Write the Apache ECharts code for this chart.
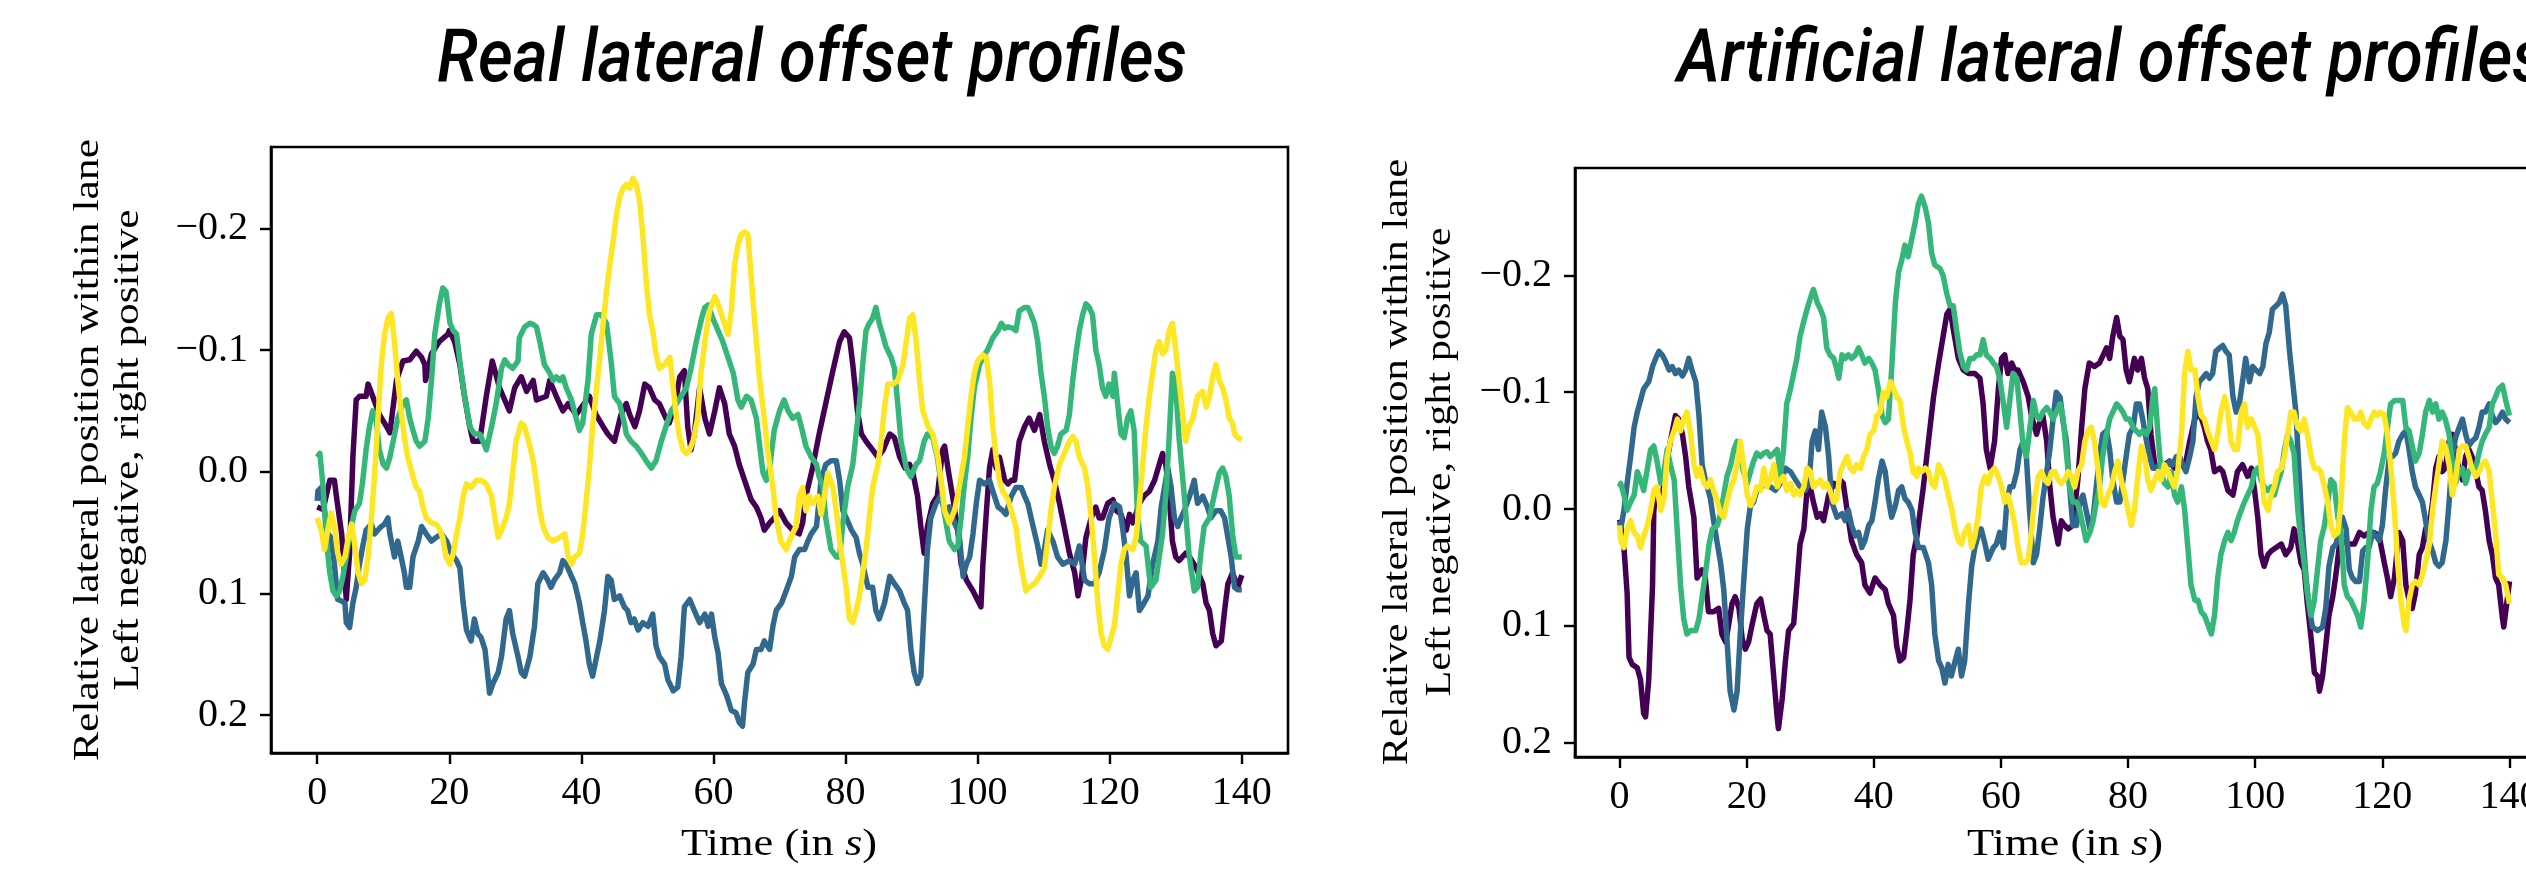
<!DOCTYPE html>
<html><head><meta charset="utf-8">
<script src="https://cdn.jsdelivr.net/npm/echarts@6/dist/echarts.min.js"></script>
<style>html,body{margin:0;padding:0;background:#fff;overflow:hidden}#c{width:2600px;height:869px}</style>
</head><body><div id="c"></div>
<script>
// ---- tick labels / categories ----
const xTicks = [0, 20, 40, 60, 80, 100, 120, 140];
const yTicks = [-0.2, -0.1, 0, 0.1, 0.2];
const titles = ['Real lateral offset profiles', 'Artificial lateral offset profiles'];
const yLabel1 = 'Relative lateral position within lane';
const yLabel2 = 'Left negative, right positive';
const colors = ['#440154', '#31688e', '#35b779', '#fde725'];

// ---- real profiles: [time s, relative lateral position] ----
const realPurple = [[0,0.029],[0.9,0.031],[1.9,0.007],[2.6,0.007],[2.9,0.020],[3.7,0.051],[4.4,0.105],[4.9,0.067],[5.4,-0.012],[5.9,-0.059],[6.4,-0.062],[7.4,-0.062],[7.7,-0.072],[8.4,-0.062],[9.4,-0.047],[10.5,-0.037],[11.0,-0.032],[12.0,-0.075],[13.0,-0.091],[14.0,-0.092],[15.0,-0.099],[15.8,-0.094],[16.3,-0.088],[16.4,-0.075],[17.3,-0.097],[18.5,-0.107],[19.8,-0.113],[20.0,-0.116],[20.8,-0.107],[21.6,-0.088],[22.3,-0.062],[23.1,-0.037],[23.6,-0.025],[24.6,-0.025],[25.6,-0.062],[26.5,-0.091],[27.6,-0.069],[29.1,-0.050],[29.9,-0.069],[30.9,-0.078],[31.7,-0.066],[32.7,-0.075],[33.2,-0.059],[34.7,-0.062],[35.2,-0.075],[36.2,-0.062],[37.2,-0.050],[38.0,-0.056],[39.2,-0.047],[41.2,-0.062],[42.2,-0.047],[43.3,-0.037],[44.0,-0.031],[45.0,-0.025],[46.0,-0.047],[46.8,-0.056],[47.3,-0.047],[48.1,-0.037],[48.8,-0.050],[49.6,-0.072],[50.3,-0.069],[51.1,-0.059],[51.8,-0.056],[52.8,-0.044],[53.3,-0.040],[54.1,-0.053],[54.9,-0.078],[55.6,-0.083],[56.1,-0.037],[56.6,-0.018],[57.1,-0.031],[57.9,-0.069],[58.7,-0.044],[59.4,-0.031],[60.2,-0.050],[60.9,-0.069],[61.7,-0.056],[62.4,-0.031],[63.2,-0.021],[63.9,-0.006],[64.7,0.007],[65.7,0.023],[66.5,0.029],[67.2,0.038],[67.7,0.048],[68.5,0.042],[69.2,0.038],[70.0,0.032],[71.0,0.042],[72.0,0.048],[73.0,0.051],[73.5,0.042],[74.0,0.020],[75.0,-0.003],[76.0,-0.031],[77.0,-0.056],[78.0,-0.081],[79.1,-0.107],[79.8,-0.115],[80.6,-0.110],[81.1,-0.088],[81.8,-0.050],[82.4,-0.031],[83.1,-0.025],[84.1,-0.018],[84.9,-0.012],[85.7,-0.018],[86.7,-0.031],[87.4,-0.028],[88.2,-0.012],[89.0,-0.003],[89.7,-0.006],[90.2,0.001],[90.9,0.020],[91.4,0.045],[91.9,0.067],[92.4,0.045],[93.2,0.026],[93.9,0.020],[94.7,-0.018],[95.0,-0.021],[95.5,-0.003],[96.2,0.020],[97.0,0.048],[97.5,0.076],[98.3,0.089],[99.3,0.098],[100.5,0.111],[100.8,0.076],[101.3,0.035],[101.8,-0.003],[102.3,-0.018],[102.8,-0.003],[103.3,-0.012],[104.1,0.007],[104.6,0.010],[105.1,0.007],[105.6,0.007],[106.3,-0.025],[107.1,-0.037],[107.8,-0.044],[108.6,-0.034],[109.4,-0.047],[110.1,-0.025],[110.9,-0.006],[111.6,0.007],[112.4,0.026],[113.1,0.045],[113.9,0.067],[114.7,0.083],[115.2,0.102],[115.7,0.089],[116.4,0.054],[117.2,0.038],[117.9,0.029],[118.4,0.038],[118.9,0.038],[119.7,0.026],[120.5,0.023],[121.0,0.032],[121.7,0.035],[122.5,0.048],[123.0,0.035],[123.5,0.042],[124.5,0.026],[125.2,0.020],[126.0,0.016],[126.8,0.007],[127.5,-0.006],[128.0,-0.015],[128.5,-0.006],[129.0,0.020],[129.5,0.057],[130.0,0.070],[130.5,0.073],[131.5,0.067],[132.1,0.070],[133.1,0.079],[134.1,0.092],[134.6,0.108],[135.1,0.114],[135.6,0.133],[136.1,0.143],[136.9,0.139],[137.4,0.114],[137.9,0.092],[138.6,0.083],[139.4,0.095],[140,0.085]];
const realBlue = [[0,0.024],[0.1,0.016],[0.6,0.013],[1.1,0.032],[1.6,0.051],[2.1,0.054],[2.6,0.076],[3.1,0.105],[3.6,0.106],[4.2,0.108],[4.4,0.124],[4.9,0.128],[5.4,0.108],[5.9,0.095],[6.4,0.076],[6.9,0.061],[7.4,0.048],[8.2,0.043],[8.7,0.051],[9.5,0.046],[10.2,0.043],[10.7,0.038],[11.0,0.051],[11.7,0.070],[12.2,0.057],[12.7,0.070],[13.2,0.083],[13.5,0.095],[14.0,0.095],[14.5,0.070],[15.3,0.057],[15.8,0.045],[16.5,0.051],[17.3,0.057],[18.0,0.054],[18.8,0.051],[19.6,0.057],[20.3,0.067],[21.1,0.073],[21.6,0.079],[22.1,0.108],[22.6,0.130],[23.3,0.139],[23.8,0.121],[24.3,0.133],[24.8,0.136],[25.4,0.146],[25.9,0.171],[26.1,0.182],[26.6,0.174],[27.4,0.165],[27.9,0.152],[28.6,0.121],[29.1,0.114],[29.6,0.133],[30.4,0.152],[30.9,0.165],[31.4,0.168],[32.2,0.152],[32.9,0.127],[33.4,0.092],[34.2,0.083],[34.9,0.089],[35.4,0.095],[35.9,0.089],[36.7,0.083],[37.2,0.073],[37.7,0.076],[38.5,0.086],[39.0,0.092],[39.7,0.108],[40.2,0.124],[40.7,0.139],[41.2,0.158],[41.7,0.168],[42.3,0.152],[42.8,0.139],[43.5,0.114],[44.0,0.086],[44.5,0.089],[45.0,0.105],[45.8,0.102],[46.5,0.111],[47.0,0.114],[47.5,0.124],[48.0,0.121],[48.6,0.130],[49.3,0.124],[50.1,0.127],[50.8,0.117],[51.3,0.143],[51.8,0.152],[52.6,0.158],[53.1,0.171],[53.9,0.180],[54.6,0.177],[55.1,0.152],[55.6,0.111],[56.4,0.105],[57.1,0.114],[57.9,0.124],[58.7,0.117],[59.2,0.127],[59.7,0.117],[60.2,0.136],[60.7,0.149],[61.2,0.174],[62.0,0.184],[62.7,0.196],[63.4,0.198],[63.9,0.206],[64.4,0.209],[64.7,0.190],[65.2,0.165],[66.0,0.158],[66.5,0.146],[67.2,0.146],[67.7,0.139],[68.5,0.146],[69.0,0.127],[69.5,0.114],[70.3,0.108],[71.0,0.098],[71.8,0.086],[72.3,0.070],[73.0,0.064],[73.8,0.064],[74.3,0.057],[74.8,0.051],[75.6,0.045],[76.3,0.007],[77.0,-0.006],[77.8,-0.009],[78.6,-0.009],[79.1,0.007],[79.6,0.032],[80.1,0.038],[80.9,0.048],[81.6,0.054],[82.1,0.067],[82.6,0.076],[83.4,0.095],[84.1,0.095],[84.6,0.114],[85.1,0.121],[85.9,0.108],[86.7,0.086],[87.4,0.092],[88.2,0.098],[88.9,0.108],[89.4,0.114],[89.9,0.146],[90.4,0.165],[90.9,0.174],[91.4,0.168],[91.9,0.114],[92.4,0.064],[92.9,0.038],[93.7,0.026],[94.4,0.020],[95.0,0.032],[95.7,0.029],[96.5,0.042],[97.2,0.051],[97.8,0.086],[98.3,0.076],[98.8,0.070],[99.3,0.051],[99.8,0.026],[100.3,0.007],[101.0,0.010],[101.8,0.007],[102.3,0.016],[103.1,0.029],[103.8,0.032],[104.3,0.035],[105.1,0.020],[105.8,0.013],[106.6,0.013],[107.1,0.020],[107.6,0.026],[108.4,0.045],[109.1,0.061],[109.6,0.076],[110.1,0.064],[110.6,0.048],[111.4,0.057],[112.1,0.070],[112.9,0.076],[113.9,0.073],[114.7,0.076],[115.4,0.061],[116.2,0.089],[116.9,0.092],[117.7,0.092],[118.4,0.083],[119.2,0.064],[119.9,0.038],[120.7,0.026],[121.5,0.029],[122.0,0.048],[122.5,0.070],[123.0,0.102],[123.5,0.089],[124.0,0.083],[124.5,0.114],[125.2,0.108],[125.8,0.102],[126.5,0.076],[127.3,0.057],[127.8,0.029],[128.3,0.013],[128.8,-0.003],[129.3,0.013],[129.8,0.038],[130.3,0.045],[130.8,0.038],[131.3,0.032],[132.1,0.020],[132.8,0.007],[133.3,0.026],[134.1,0.020],[134.8,0.029],[135.3,0.038],[136.1,0.032],[136.8,0.032],[137.4,0.038],[137.9,0.054],[138.4,0.070],[138.9,0.095],[139.4,0.097],[140,0.097]];
const realGreen = [[0,-0.012],[0.4,-0.015],[0.9,0.013],[1.4,0.057],[1.9,0.083],[2.4,0.098],[2.9,0.102],[3.4,0.098],[3.9,0.086],[4.4,0.070],[4.9,0.051],[5.7,0.032],[6.4,0.026],[6.9,0.007],[7.4,-0.018],[7.9,-0.037],[8.4,-0.050],[8.9,-0.044],[9.4,-0.018],[10.0,-0.006],[10.5,-0.003],[11.0,-0.012],[11.5,-0.025],[12.2,-0.044],[13.0,-0.056],[13.5,-0.059],[14.0,-0.044],[14.5,-0.034],[15.0,-0.025],[15.5,-0.021],[16.3,-0.025],[16.8,-0.044],[17.3,-0.075],[17.8,-0.113],[18.5,-0.138],[19.0,-0.151],[19.5,-0.148],[20.1,-0.122],[20.6,-0.116],[21.1,-0.113],[21.6,-0.091],[22.1,-0.069],[22.6,-0.053],[23.1,-0.037],[23.8,-0.031],[24.6,-0.031],[25.1,-0.025],[25.6,-0.018],[26.4,-0.037],[27.1,-0.056],[27.9,-0.085],[28.4,-0.092],[28.9,-0.088],[29.6,-0.085],[30.4,-0.091],[30.6,-0.110],[31.4,-0.119],[32.2,-0.122],[32.7,-0.121],[33.2,-0.119],[33.7,-0.107],[34.4,-0.088],[35.2,-0.081],[35.7,-0.075],[36.2,-0.078],[36.7,-0.075],[37.2,-0.078],[37.7,-0.069],[38.5,-0.059],[39.2,-0.044],[39.7,-0.034],[40.2,-0.040],[41.0,-0.075],[41.5,-0.113],[42.3,-0.129],[43.0,-0.129],[43.8,-0.122],[44.5,-0.091],[45.0,-0.062],[45.8,-0.056],[46.5,-0.040],[46.8,-0.031],[47.5,-0.025],[48.3,-0.021],[49.1,-0.015],[49.8,-0.009],[50.6,-0.003],[51.3,-0.009],[52.1,-0.025],[52.8,-0.037],[53.6,-0.050],[54.4,-0.056],[55.1,-0.062],[55.9,-0.069],[56.6,-0.085],[57.4,-0.107],[58.2,-0.126],[58.7,-0.135],[59.2,-0.137],[59.9,-0.126],[60.7,-0.116],[61.4,-0.107],[62.2,-0.094],[63.0,-0.081],[63.7,-0.059],[64.2,-0.053],[65.0,-0.062],[65.7,-0.059],[66.5,-0.044],[67.0,-0.021],[67.5,0.001],[68.0,0.007],[68.5,-0.003],[69.2,-0.034],[70.0,-0.050],[70.7,-0.059],[71.3,-0.050],[72.0,-0.044],[72.8,-0.047],[73.3,-0.037],[74.0,-0.021],[74.8,-0.012],[75.6,-0.006],[76.0,0.004],[76.6,0.013],[77.0,0.038],[77.8,0.064],[78.6,0.070],[79.1,0.070],[79.6,0.042],[80.3,0.013],[81.1,-0.006],[81.6,-0.031],[82.1,-0.056],[82.6,-0.088],[83.1,-0.116],[83.6,-0.122],[84.1,-0.126],[84.6,-0.135],[85.1,-0.122],[85.6,-0.113],[86.1,-0.103],[86.9,-0.094],[87.4,-0.085],[87.9,-0.056],[88.4,-0.025],[89.2,-0.003],[89.9,0.004],[90.7,-0.006],[91.2,-0.009],[91.9,-0.025],[92.4,-0.031],[93.2,-0.028],[93.9,-0.012],[94.4,0.007],[94.9,0.032],[95.7,0.057],[96.5,0.064],[97.0,0.061],[97.5,0.038],[98.0,0.010],[98.5,-0.012],[99.0,-0.044],[99.5,-0.069],[100.3,-0.088],[100.8,-0.094],[101.5,-0.100],[102.3,-0.110],[103.1,-0.116],[103.6,-0.122],[104.1,-0.118],[104.6,-0.119],[105.3,-0.118],[105.8,-0.116],[106.3,-0.132],[107.1,-0.135],[107.6,-0.135],[108.1,-0.129],[108.6,-0.122],[109.1,-0.107],[109.6,-0.081],[110.1,-0.062],[110.6,-0.037],[111.1,-0.021],[111.6,-0.015],[112.1,-0.021],[112.6,-0.031],[113.4,-0.034],[113.9,-0.047],[114.4,-0.075],[114.9,-0.097],[115.4,-0.116],[115.9,-0.129],[116.4,-0.138],[116.9,-0.135],[117.4,-0.129],[117.9,-0.100],[118.4,-0.088],[118.9,-0.069],[119.4,-0.062],[119.9,-0.072],[120.5,-0.062],[120.7,-0.081],[121.2,-0.056],[121.7,-0.031],[122.2,-0.028],[122.7,-0.044],[123.2,-0.050],[123.7,-0.034],[124.2,0.035],[124.7,0.057],[125.5,0.061],[126.2,0.095],[127.0,0.089],[127.5,0.070],[128.0,0.051],[128.5,0.020],[129.0,-0.028],[129.5,-0.081],[130.0,-0.069],[130.5,-0.028],[131.3,0.020],[132.0,0.067],[132.8,0.098],[133.3,0.095],[133.8,0.067],[134.3,0.045],[135.1,0.038],[135.8,0.020],[136.6,0.001],[137.1,-0.003],[137.6,0.004],[138.1,0.020],[138.6,0.051],[139.1,0.070],[140,0.070]];
const realYellow = [[0,0.038],[0.1,0.038],[0.6,0.048],[1.1,0.064],[1.6,0.048],[2.1,0.034],[2.6,0.045],[3.1,0.067],[3.6,0.076],[4.2,0.070],[4.7,0.054],[5.2,0.043],[5.7,0.061],[6.2,0.083],[6.7,0.092],[7.2,0.089],[7.7,0.070],[8.2,0.038],[8.7,0.001],[9.2,-0.044],[9.7,-0.088],[10.2,-0.113],[10.7,-0.126],[11.2,-0.130],[11.7,-0.107],[12.2,-0.075],[12.7,-0.050],[13.2,-0.028],[13.7,-0.012],[14.5,0.004],[15.0,0.013],[15.5,0.016],[16.0,0.029],[16.5,0.038],[17.3,0.042],[18.0,0.043],[18.5,0.047],[19.0,0.054],[19.5,0.070],[20.1,0.076],[20.6,0.067],[21.1,0.051],[21.6,0.038],[22.1,0.020],[22.6,0.010],[23.3,0.013],[24.1,0.007],[24.8,0.007],[25.6,0.010],[26.4,0.020],[26.9,0.038],[27.4,0.054],[27.9,0.048],[28.6,0.038],[29.1,0.026],[29.6,0.001],[30.1,-0.025],[30.9,-0.040],[31.4,-0.037],[32.2,-0.021],[32.7,-0.009],[33.2,0.010],[33.7,0.032],[34.2,0.045],[34.9,0.054],[35.7,0.057],[36.7,0.054],[37.5,0.051],[38.0,0.070],[38.5,0.076],[39.0,0.070],[39.7,0.067],[40.2,0.051],[40.7,0.026],[41.2,-0.003],[41.7,-0.037],[42.3,-0.069],[42.8,-0.094],[43.3,-0.122],[43.8,-0.148],[44.3,-0.170],[44.8,-0.189],[45.3,-0.211],[45.8,-0.226],[46.3,-0.233],[46.8,-0.236],[47.3,-0.233],[47.8,-0.241],[48.3,-0.236],[48.8,-0.223],[49.3,-0.195],[49.8,-0.157],[50.3,-0.129],[50.8,-0.116],[51.3,-0.097],[51.8,-0.085],[52.6,-0.088],[53.4,-0.094],[53.9,-0.069],[54.4,-0.044],[54.9,-0.028],[55.4,-0.018],[55.9,-0.015],[56.4,-0.018],[56.9,-0.025],[57.6,-0.044],[58.1,-0.081],[58.7,-0.107],[59.4,-0.132],[60.2,-0.144],[60.7,-0.138],[61.4,-0.126],[62.2,-0.113],[62.7,-0.132],[63.2,-0.170],[63.7,-0.186],[64.2,-0.195],[64.7,-0.197],[65.2,-0.195],[65.7,-0.161],[66.2,-0.126],[67.0,-0.075],[67.7,-0.044],[68.2,-0.018],[69.0,0.013],[69.5,0.038],[70.2,0.057],[71.0,0.064],[71.7,0.054],[72.5,0.045],[73.0,0.020],[73.5,0.013],[74.0,0.032],[74.5,0.020],[75.0,0.026],[75.8,0.020],[76.3,0.035],[76.8,0.020],[77.3,0.001],[78.1,0.013],[78.6,0.032],[79.1,0.057],[79.6,0.076],[80.1,0.095],[80.6,0.121],[81.1,0.124],[81.6,0.114],[82.1,0.102],[82.6,0.083],[83.1,0.064],[83.6,0.038],[84.1,0.013],[84.9,-0.006],[85.4,-0.025],[85.9,-0.053],[86.4,-0.072],[87.2,-0.072],[87.9,-0.075],[88.7,-0.088],[89.2,-0.107],[89.7,-0.126],[90.2,-0.129],[90.7,-0.107],[91.2,-0.075],[91.7,-0.050],[92.5,-0.037],[93.2,-0.031],[94.0,-0.012],[94.7,0.016],[95.0,0.032],[95.7,0.042],[96.5,0.032],[97.2,0.013],[98.0,-0.012],[98.5,-0.037],[99.0,-0.062],[99.5,-0.081],[100.0,-0.091],[100.8,-0.096],[101.3,-0.094],[101.8,-0.075],[102.3,-0.037],[102.8,-0.012],[103.3,0.007],[103.8,0.016],[104.6,0.023],[105.1,0.032],[105.8,0.045],[106.3,0.067],[106.8,0.083],[107.3,0.098],[107.8,0.095],[108.6,0.092],[109.4,0.086],[110.1,0.079],[110.6,0.057],[111.1,0.032],[111.6,0.013],[112.4,-0.006],[113.1,-0.015],[113.9,-0.025],[114.4,-0.029],[114.9,-0.025],[115.4,-0.012],[116.2,-0.003],[116.7,0.013],[117.2,0.038],[117.7,0.070],[118.2,0.108],[118.7,0.133],[119.2,0.143],[119.7,0.146],[120.2,0.136],[120.7,0.127],[121.2,0.102],[121.7,0.076],[122.2,0.064],[122.7,0.061],[123.5,0.064],[124.0,0.054],[124.5,0.026],[125.0,-0.006],[125.5,-0.037],[126.0,-0.062],[126.5,-0.081],[127.0,-0.100],[127.5,-0.107],[128.0,-0.097],[128.5,-0.100],[129.0,-0.116],[129.5,-0.122],[130.0,-0.100],[130.5,-0.075],[131.0,-0.050],[131.5,-0.025],[132.0,-0.037],[132.6,-0.044],[133.3,-0.062],[134.1,-0.066],[134.6,-0.053],[135.1,-0.062],[135.6,-0.078],[136.1,-0.088],[136.6,-0.075],[137.1,-0.069],[137.6,-0.059],[138.1,-0.044],[138.6,-0.040],[138.9,-0.031],[139.4,-0.028],[140,-0.026]];

// ---- artificial profiles: [time s, relative lateral position] ----
const artPurple = [[0,0.009],[0.2,0.014],[0.7,0.033],[1.2,0.072],[1.5,0.127],[2.0,0.133],[2.8,0.136],[3.3,0.146],[3.8,0.175],[4.1,0.178],[4.6,0.146],[5.2,0.065],[5.4,0.001],[5.9,-0.016],[6.7,-0.009],[7.2,-0.032],[8.0,-0.058],[8.8,-0.080],[9.3,-0.077],[9.9,-0.064],[10.4,-0.045],[10.9,-0.019],[11.7,0.007],[12.2,0.059],[13.0,0.052],[13.5,0.059],[14.0,0.088],[14.8,0.088],[15.6,0.085],[16.1,0.107],[16.7,0.114],[17.2,0.098],[17.7,0.081],[18.2,0.075],[18.8,0.085],[19.3,0.111],[19.8,0.120],[20.3,0.114],[20.9,0.098],[21.6,0.081],[22.2,0.077],[22.7,0.091],[23.2,0.104],[23.7,0.107],[24.3,0.146],[24.8,0.178],[25.0,0.188],[25.6,0.162],[26.1,0.130],[26.6,0.104],[27.4,0.098],[27.9,0.065],[28.4,0.030],[29.0,0.017],[29.5,-0.016],[30.0,-0.019],[30.5,-0.006],[31.1,0.007],[31.6,0.004],[32.1,0.010],[32.9,-0.012],[33.7,-0.022],[34.2,-0.019],[34.7,-0.025],[35.2,-0.022],[35.8,0.001],[36.5,0.027],[37.3,0.039],[38.1,0.046],[38.6,0.065],[39.4,0.072],[40.2,0.059],[41.0,0.065],[41.8,0.069],[42.3,0.081],[43.1,0.091],[43.6,0.117],[44.1,0.130],[44.7,0.127],[45.2,0.104],[45.7,0.078],[46.2,0.039],[46.8,0.023],[47.0,0.014],[47.8,-0.019],[48.6,-0.058],[49.4,-0.096],[50.2,-0.125],[51.0,-0.151],[51.5,-0.167],[52.0,-0.171],[52.5,-0.154],[53.3,-0.129],[54.1,-0.119],[54.9,-0.116],[55.9,-0.116],[56.7,-0.112],[57.2,-0.090],[57.7,-0.051],[58.3,-0.035],[59.0,-0.058],[59.6,-0.103],[60.1,-0.129],[60.6,-0.132],[61.1,-0.116],[61.7,-0.125],[62.2,-0.119],[62.7,-0.119],[63.5,-0.109],[64.3,-0.096],[64.8,-0.080],[65.6,-0.064],[66.1,-0.074],[66.6,-0.080],[67.2,-0.058],[67.7,-0.019],[68.2,0.007],[69.0,0.030],[69.5,0.010],[70.0,0.014],[70.6,0.017],[71.3,0.014],[72.1,-0.025],[72.7,-0.070],[73.2,-0.103],[73.9,-0.125],[74.7,-0.122],[75.5,-0.125],[76.1,-0.132],[76.6,-0.138],[77.1,-0.129],[77.6,-0.148],[78.2,-0.164],[78.7,-0.148],[79.2,-0.145],[79.7,-0.119],[80.2,-0.109],[81.0,-0.129],[81.5,-0.119],[82.1,-0.129],[82.6,-0.112],[83.1,-0.103],[83.6,-0.064],[84.2,-0.038],[84.9,-0.032],[85.7,-0.038],[86.5,-0.041],[87.3,-0.035],[88.1,-0.041],[88.9,-0.035],[89.7,-0.058],[90.5,-0.077],[91.2,-0.083],[92.0,-0.070],[92.5,-0.058],[93.0,-0.051],[93.6,-0.032],[94.4,-0.035],[94.9,-0.032],[95.7,-0.016],[96.5,-0.012],[97.2,-0.032],[98.0,-0.038],[98.8,-0.028],[99.4,-0.035],[99.9,-0.016],[100.4,0.007],[100.9,0.039],[101.4,0.049],[102.0,0.039],[102.5,0.036],[103.3,0.033],[104.1,0.030],[104.8,0.039],[105.6,0.033],[106.1,0.017],[106.7,0.030],[107.2,0.046],[107.7,0.052],[108.2,0.081],[108.8,0.111],[109.3,0.140],[109.8,0.143],[110.1,0.156],[110.6,0.143],[111.1,0.117],[111.6,0.091],[112.2,0.075],[112.7,0.056],[113.2,0.033],[113.7,0.027],[114.5,0.030],[115.6,0.030],[116.4,0.020],[117.1,0.023],[117.9,0.020],[118.7,0.020],[119.5,0.023],[120.3,0.046],[120.8,0.059],[121.3,0.075],[121.9,0.059],[122.6,0.020],[123.2,0.027],[123.7,0.065],[124.2,0.078],[124.7,0.085],[125.2,0.072],[125.8,0.039],[126.3,0.033],[126.8,0.017],[127.4,0.014],[127.9,-0.006],[128.4,-0.035],[128.9,-0.045],[129.4,-0.032],[129.9,-0.035],[130.5,-0.058],[131.0,-0.064],[131.5,-0.051],[132.1,-0.032],[132.6,-0.025],[133.1,-0.045],[133.6,-0.051],[134.1,-0.045],[134.7,-0.032],[135.2,-0.019],[135.7,-0.016],[136.2,0.001],[136.8,0.027],[137.3,0.039],[137.8,0.059],[138.3,0.065],[138.9,0.094],[139.1,0.101],[139.7,0.075],[140,0.062]];
const artBlue = [[0,0.010],[0.2,0.017],[0.7,0.001],[1.2,-0.022],[1.75,-0.045],[2.3,-0.070],[2.8,-0.083],[3.3,-0.093],[3.8,-0.103],[4.6,-0.109],[5.2,-0.122],[5.7,-0.129],[6.2,-0.135],[6.7,-0.132],[7.2,-0.127],[7.8,-0.119],[8.3,-0.122],[8.8,-0.116],[9.3,-0.119],[9.9,-0.114],[10.4,-0.119],[10.9,-0.129],[11.4,-0.119],[12.0,-0.109],[12.5,-0.080],[13.0,-0.038],[13.5,-0.025],[14.3,-0.009],[14.8,0.010],[15.4,0.030],[15.9,0.046],[16.4,0.069],[16.9,0.111],[17.4,0.156],[18.0,0.172],[18.5,0.156],[19.0,0.107],[19.5,0.065],[20.1,0.017],[20.6,-0.003],[21.1,-0.006],[21.6,-0.016],[22.4,-0.019],[22.9,-0.022],[23.7,-0.019],[24.5,-0.016],[25.3,-0.022],[26.1,-0.035],[26.9,-0.032],[27.7,-0.025],[28.4,-0.019],[29.2,-0.016],[29.8,-0.022],[30.3,-0.058],[30.8,-0.067],[31.3,-0.051],[31.8,-0.083],[32.4,-0.070],[32.9,-0.045],[33.4,-0.006],[34.2,0.007],[35.0,0.004],[35.5,0.010],[36.0,0.001],[36.5,0.014],[37.1,0.023],[37.6,0.020],[38.1,0.033],[38.6,0.027],[39.2,0.014],[39.7,0.010],[40.2,-0.006],[40.7,-0.025],[41.3,-0.041],[41.8,-0.032],[42.3,-0.009],[42.8,0.007],[43.4,-0.003],[43.9,-0.016],[44.4,-0.019],[44.9,-0.009],[45.4,-0.006],[46.0,0.001],[46.5,0.020],[47.0,0.033],[47.8,0.033],[48.6,0.046],[49.1,0.065],[49.6,0.107],[50.2,0.130],[50.7,0.136],[51.2,0.149],[51.7,0.133],[52.2,0.143],[52.8,0.130],[53.3,0.120],[53.8,0.143],[54.3,0.130],[54.9,0.081],[55.4,0.049],[55.9,0.033],[56.4,0.023],[56.9,0.017],[57.5,0.030],[58.0,0.043],[58.8,0.033],[59.3,0.030],[59.8,0.020],[60.4,0.033],[60.9,-0.003],[61.4,-0.019],[61.9,-0.019],[62.5,-0.032],[63.0,-0.051],[63.5,-0.058],[64.0,-0.045],[64.5,0.001],[65.1,0.046],[65.6,0.039],[66.1,0.017],[66.6,-0.009],[67.2,-0.032],[67.7,-0.051],[68.2,-0.077],[68.7,-0.100],[69.3,-0.096],[69.8,-0.074],[70.3,-0.058],[70.8,-0.019],[71.3,0.014],[71.9,0.014],[72.4,-0.006],[72.9,-0.012],[73.4,0.001],[74.0,0.017],[74.5,0.007],[75.0,-0.019],[75.5,-0.045],[76.0,-0.064],[76.6,-0.067],[77.1,-0.051],[77.6,-0.025],[78.2,-0.006],[78.7,-0.006],[79.2,-0.025],[79.7,-0.045],[80.2,-0.064],[80.8,-0.070],[81.3,-0.090],[81.8,-0.090],[82.3,-0.077],[82.9,-0.058],[83.4,-0.045],[83.9,-0.035],[84.4,-0.035],[84.9,-0.038],[85.5,-0.032],[86.0,-0.035],[86.5,-0.041],[87.0,-0.038],[87.6,-0.045],[88.1,-0.045],[88.6,-0.038],[89.1,-0.032],[89.7,-0.045],[90.2,-0.058],[90.7,-0.096],[91.2,-0.109],[91.7,-0.112],[92.3,-0.116],[92.8,-0.112],[93.3,-0.116],[93.8,-0.135],[94.4,-0.138],[94.9,-0.140],[95.4,-0.135],[95.9,-0.132],[96.5,-0.096],[97.0,-0.083],[97.5,-0.090],[98.0,-0.109],[98.5,-0.129],[99.1,-0.109],[99.6,-0.122],[100.1,-0.119],[100.7,-0.116],[101.2,-0.122],[101.7,-0.142],[102.2,-0.151],[102.7,-0.171],[103.3,-0.174],[103.8,-0.177],[104.3,-0.184],[104.8,-0.174],[105.4,-0.135],[105.9,-0.109],[106.4,-0.083],[106.9,-0.032],[107.4,0.017],[108.0,0.059],[108.5,0.085],[109.0,0.101],[109.8,0.104],[110.6,0.101],[111.1,0.085],[111.6,0.049],[112.2,0.033],[112.7,0.030],[113.2,0.020],[113.7,0.007],[114.3,0.017],[114.8,0.052],[115.3,0.059],[115.8,0.062],[116.4,0.062],[116.9,0.036],[117.4,0.033],[117.9,0.033],[118.5,0.020],[119.0,0.023],[119.5,0.027],[120.0,0.014],[120.5,-0.016],[121.1,-0.045],[121.6,-0.045],[122.1,-0.048],[122.6,-0.058],[123.2,-0.064],[123.7,-0.067],[124.2,-0.051],[124.7,-0.032],[125.2,-0.019],[125.8,-0.012],[126.3,-0.006],[126.8,0.010],[127.3,0.027],[127.9,0.036],[128.4,0.046],[128.9,0.049],[129.4,0.046],[130.0,0.027],[130.5,-0.006],[131.0,-0.045],[131.5,-0.061],[132.1,-0.070],[132.6,-0.077],[133.1,-0.064],[133.6,-0.054],[134.1,-0.058],[134.7,-0.061],[135.2,-0.070],[135.7,-0.083],[136.2,-0.083],[136.8,-0.090],[137.3,-0.080],[137.8,-0.074],[138.3,-0.077],[138.9,-0.083],[139.4,-0.077],[140,-0.074]];
const artGreen = [[0,-0.019],[0.2,-0.022],[0.7,-0.012],[1.2,0.001],[1.75,-0.006],[2.3,-0.012],[2.8,-0.032],[3.3,-0.025],[3.8,-0.016],[4.4,-0.035],[4.9,-0.051],[5.4,-0.054],[5.9,-0.041],[6.5,-0.022],[7.0,-0.032],[7.5,-0.051],[8.0,-0.038],[8.6,-0.025],[9.1,0.020],[9.6,0.065],[10.1,0.094],[10.6,0.107],[11.2,0.104],[12.0,0.104],[12.5,0.094],[13.0,0.075],[13.5,0.056],[14.1,0.030],[14.6,0.017],[15.4,0.014],[15.9,0.004],[16.4,-0.012],[16.9,-0.028],[17.5,-0.038],[18.0,-0.051],[18.5,-0.058],[19.0,-0.045],[19.5,-0.032],[20.1,-0.022],[20.6,-0.032],[21.1,-0.041],[21.6,-0.048],[22.2,-0.045],[22.7,-0.048],[23.2,-0.049],[23.7,-0.045],[24.3,-0.048],[24.8,-0.051],[25.3,-0.028],[25.8,-0.051],[26.3,-0.090],[26.9,-0.103],[27.4,-0.116],[27.9,-0.129],[28.4,-0.148],[29.0,-0.161],[29.5,-0.171],[30.0,-0.180],[30.5,-0.188],[31.1,-0.177],[31.6,-0.171],[32.1,-0.164],[32.6,-0.138],[33.1,-0.132],[33.7,-0.129],[34.2,-0.119],[34.5,-0.112],[35.0,-0.132],[35.5,-0.129],[36.0,-0.132],[36.5,-0.129],[37.1,-0.132],[37.6,-0.138],[38.1,-0.132],[38.6,-0.125],[39.2,-0.129],[39.7,-0.125],[40.2,-0.119],[40.7,-0.103],[41.3,-0.080],[41.8,-0.074],[42.3,-0.077],[42.8,-0.119],[43.4,-0.177],[43.9,-0.203],[44.4,-0.213],[44.9,-0.226],[45.4,-0.216],[46.0,-0.232],[46.5,-0.245],[47.0,-0.261],[47.5,-0.268],[48.1,-0.258],[48.6,-0.245],[49.1,-0.219],[49.6,-0.209],[50.4,-0.206],[50.9,-0.200],[51.5,-0.184],[52.0,-0.174],[52.5,-0.174],[53.0,-0.154],[53.5,-0.135],[54.1,-0.122],[54.6,-0.119],[55.1,-0.129],[55.7,-0.129],[56.2,-0.132],[56.7,-0.132],[57.2,-0.145],[57.7,-0.132],[58.3,-0.129],[58.8,-0.125],[59.3,-0.122],[59.8,-0.112],[60.4,-0.090],[60.9,-0.070],[61.4,-0.093],[61.9,-0.116],[62.5,-0.112],[63.0,-0.083],[63.5,-0.054],[64.0,-0.045],[64.5,-0.067],[65.1,-0.093],[65.6,-0.080],[66.1,-0.077],[66.6,-0.083],[67.2,-0.087],[67.7,-0.083],[68.2,-0.077],[68.7,-0.083],[69.3,-0.090],[69.8,-0.077],[70.3,-0.048],[70.8,-0.019],[71.3,-0.006],[71.9,-0.006],[72.4,0.001],[72.9,0.014],[73.4,0.027],[74.0,0.020],[74.5,0.010],[75.0,-0.006],[75.5,-0.019],[76.0,-0.045],[76.6,-0.064],[77.1,-0.077],[77.6,-0.083],[78.2,-0.090],[78.7,-0.087],[79.2,-0.083],[79.7,-0.077],[80.2,-0.077],[80.8,-0.070],[81.3,-0.067],[81.8,-0.064],[82.3,-0.067],[82.9,-0.064],[83.4,-0.070],[83.9,-0.096],[84.2,-0.103],[84.7,-0.064],[85.2,-0.032],[85.7,-0.022],[86.3,-0.019],[86.8,-0.032],[87.3,-0.012],[87.8,-0.006],[88.4,-0.019],[88.9,0.001],[89.4,0.033],[89.9,0.065],[90.5,0.078],[91.0,0.078],[91.5,0.088],[92.0,0.091],[92.5,0.098],[93.1,0.107],[93.6,0.091],[94.1,0.059],[94.6,0.039],[95.2,0.027],[95.7,0.020],[96.2,0.027],[96.7,0.020],[97.2,0.010],[97.8,0.001],[98.3,-0.006],[98.8,-0.012],[99.4,-0.019],[99.9,-0.032],[100.4,-0.035],[100.9,-0.025],[101.4,-0.019],[102.0,-0.016],[102.5,-0.019],[103.0,-0.012],[103.5,-0.022],[104.1,-0.032],[104.6,-0.051],[105.1,-0.064],[105.6,-0.058],[106.1,-0.048],[106.7,0.001],[107.2,0.027],[107.7,0.046],[108.2,0.072],[108.8,0.091],[109.3,0.078],[109.8,0.052],[110.3,0.027],[110.9,0.014],[111.4,-0.006],[111.9,-0.025],[112.4,-0.022],[113.0,0.007],[113.5,0.020],[114.0,0.065],[114.5,0.075],[115.0,0.078],[115.6,0.085],[116.1,0.091],[116.6,0.101],[117.1,0.081],[117.7,0.043],[118.2,0.001],[118.7,-0.019],[119.2,-0.022],[119.7,-0.032],[120.3,-0.048],[120.8,-0.070],[121.3,-0.090],[121.9,-0.093],[122.6,-0.093],[123.2,-0.093],[123.7,-0.070],[124.2,-0.067],[124.7,-0.054],[125.2,-0.041],[125.8,-0.048],[126.3,-0.064],[126.8,-0.083],[127.4,-0.093],[127.9,-0.083],[128.4,-0.090],[128.9,-0.077],[129.4,-0.083],[129.9,-0.077],[130.5,-0.064],[131.0,-0.038],[131.5,-0.022],[132.1,-0.032],[132.6,-0.035],[133.1,-0.022],[133.6,-0.032],[134.1,-0.035],[134.7,-0.035],[135.2,-0.048],[135.7,-0.058],[136.2,-0.064],[136.8,-0.070],[137.3,-0.090],[137.8,-0.096],[138.3,-0.103],[138.9,-0.106],[139.4,-0.093],[140,-0.080]];
const artYellow = [[0,0.014],[0.2,0.027],[0.7,0.033],[1.2,0.017],[1.75,0.010],[2.3,0.020],[2.8,0.023],[3.3,0.033],[3.8,0.023],[4.4,0.014],[4.9,0.001],[5.4,-0.016],[5.9,-0.019],[6.5,0.001],[7.0,-0.009],[7.5,-0.045],[8.0,-0.058],[8.6,-0.067],[9.1,-0.077],[9.6,-0.067],[10.1,-0.077],[10.6,-0.083],[11.2,-0.064],[11.7,-0.038],[12.2,-0.028],[12.7,-0.035],[13.3,-0.022],[13.8,-0.019],[14.3,-0.025],[14.8,-0.016],[15.4,-0.006],[15.9,0.004],[16.4,0.007],[16.9,-0.006],[17.5,-0.019],[18.0,-0.025],[18.5,-0.038],[19.0,-0.058],[19.5,-0.038],[20.1,-0.012],[20.6,-0.003],[21.1,-0.009],[21.6,-0.019],[22.2,-0.016],[22.7,-0.035],[23.2,-0.019],[23.7,-0.025],[24.3,-0.038],[24.8,-0.019],[25.3,-0.025],[25.8,-0.028],[26.3,-0.016],[26.9,-0.022],[27.4,-0.012],[27.9,-0.016],[28.4,-0.012],[29.0,-0.019],[29.5,-0.035],[30.0,-0.032],[30.5,-0.019],[31.1,-0.022],[31.6,-0.025],[32.1,-0.019],[32.6,-0.022],[33.1,-0.016],[33.7,-0.006],[34.2,-0.009],[34.7,-0.032],[35.2,-0.038],[35.8,-0.045],[36.3,-0.035],[36.8,-0.032],[37.3,-0.038],[37.9,-0.035],[38.4,-0.045],[38.9,-0.051],[39.4,-0.064],[40.0,-0.067],[40.5,-0.080],[41.0,-0.083],[41.5,-0.100],[42.0,-0.096],[42.6,-0.109],[43.1,-0.103],[43.6,-0.096],[44.1,-0.093],[44.7,-0.070],[45.2,-0.058],[45.7,-0.048],[46.2,-0.032],[46.8,-0.028],[47.0,-0.035],[47.5,-0.032],[48.1,-0.035],[48.6,-0.032],[49.1,-0.022],[49.6,-0.019],[50.2,-0.038],[50.7,-0.032],[51.2,-0.025],[51.7,-0.012],[52.3,0.001],[52.8,0.017],[53.3,0.027],[53.8,0.030],[54.3,0.020],[54.9,0.014],[55.4,0.033],[55.9,0.023],[56.4,0.007],[56.9,-0.019],[57.5,-0.028],[58.0,-0.022],[58.5,-0.032],[59.0,-0.035],[59.6,-0.028],[60.1,-0.019],[60.6,-0.006],[61.1,-0.012],[61.7,0.001],[62.2,0.014],[62.7,0.033],[63.2,0.046],[63.8,0.046],[64.3,0.043],[64.8,0.020],[65.3,-0.009],[65.9,-0.028],[66.4,-0.032],[66.9,-0.025],[67.4,-0.022],[68.0,-0.032],[68.5,-0.032],[69.0,-0.025],[69.5,-0.022],[70.0,-0.025],[70.6,-0.032],[71.1,-0.028],[71.6,-0.019],[72.1,-0.032],[72.7,-0.038],[73.2,-0.058],[73.7,-0.067],[74.2,-0.070],[74.7,-0.058],[75.3,-0.032],[75.8,-0.006],[76.3,-0.003],[76.8,-0.012],[77.4,-0.019],[77.9,-0.032],[78.4,-0.041],[78.9,-0.025],[79.5,-0.012],[80.0,0.001],[80.5,0.014],[81.0,0.001],[81.6,-0.032],[82.1,-0.054],[82.6,-0.045],[83.1,-0.025],[83.6,-0.016],[84.2,-0.025],[84.7,-0.032],[85.2,-0.025],[85.7,-0.038],[86.3,-0.032],[86.8,-0.025],[87.3,-0.019],[87.8,-0.032],[88.4,-0.064],[88.9,-0.116],[89.4,-0.135],[89.9,-0.119],[90.5,-0.119],[91.0,-0.096],[91.5,-0.080],[92.0,-0.077],[92.5,-0.067],[93.1,-0.058],[93.6,-0.051],[94.1,-0.064],[94.6,-0.083],[95.2,-0.096],[95.7,-0.083],[96.2,-0.058],[96.7,-0.051],[97.2,-0.051],[97.8,-0.083],[98.3,-0.090],[98.8,-0.070],[99.4,-0.077],[99.9,-0.070],[100.4,-0.064],[100.9,-0.038],[101.4,-0.006],[102.0,0.001],[102.5,-0.012],[103.0,-0.019],[103.5,-0.032],[104.1,-0.035],[104.6,-0.045],[105.1,-0.064],[105.6,-0.083],[106.1,-0.083],[106.7,-0.070],[107.2,-0.067],[107.7,-0.077],[108.2,-0.064],[108.8,-0.045],[109.3,-0.035],[109.8,-0.035],[110.3,-0.032],[110.9,-0.019],[111.4,-0.006],[111.9,0.014],[112.4,0.023],[113.0,0.020],[113.5,-0.006],[114.0,-0.058],[114.5,-0.087],[115.0,-0.083],[115.6,-0.077],[116.1,-0.077],[116.6,-0.083],[117.1,-0.074],[117.7,-0.070],[118.2,-0.077],[118.7,-0.083],[119.2,-0.080],[119.7,-0.083],[120.3,-0.080],[120.8,-0.064],[121.3,-0.038],[121.9,0.001],[122.4,0.046],[122.9,0.078],[123.4,0.098],[123.7,0.104],[124.2,0.078],[124.7,0.065],[125.2,0.062],[125.8,0.065],[126.3,0.056],[126.8,0.046],[127.4,0.030],[127.9,0.001],[128.4,-0.019],[128.9,-0.038],[129.4,-0.058],[129.9,-0.054],[130.5,-0.038],[131.0,-0.012],[131.5,-0.025],[132.1,-0.051],[132.6,-0.054],[133.1,-0.054],[133.6,-0.045],[134.1,-0.035],[134.7,-0.028],[135.2,-0.032],[135.7,-0.038],[136.2,-0.041],[136.8,-0.032],[137.3,-0.006],[137.8,0.020],[138.3,0.056],[138.9,0.059],[139.4,0.065],[140,0.081]];

const realSeries = [realPurple, realBlue, realGreen, realYellow];
const artSeries = [artPurple, artBlue, artGreen, artYellow];

// ---- layout / style ----
const serif = "'Liberation Serif','DejaVu Serif',serif";
const titleFont = 'Roboto';
const grids = [
  {left: 271, top: 147, width: 1017, height: 606},
  {left: 1575, top: 168, width: 979, height: 589}
];
const yRanges = [[-0.2668, 0.2311], [-0.2920, 0.2123]];

function fmtY(v) {
  const s = Math.abs(v).toFixed(1);
  return v < -1e-9 ? '\u2212' + s : s;
}

const xAxes = grids.map((g, i) => ({
  gridIndex: i, type: 'value', min: -7, max: 147,
  axisLine: {show: true, onZero: false, lineStyle: {color: '#000', width: 2.6}},
  axisTick: {show: true, inside: false, length: 11, lineStyle: {color: '#000', width: 2.4}, customValues: xTicks},
  axisLabel: {show: true, margin: 20, color: '#000', fontFamily: serif, fontSize: 40, customValues: xTicks, formatter: v => String(v)},
  splitLine: {show: false}
}));
const yAxes = grids.map((g, i) => ({
  gridIndex: i, type: 'value', inverse: true, min: yRanges[i][0], max: yRanges[i][1],
  axisLine: {show: true, onZero: false, lineStyle: {color: '#000', width: 2.6}},
  axisTick: {show: true, inside: false, length: 11, lineStyle: {color: '#000', width: 2.4}, customValues: yTicks},
  axisLabel: {show: true, margin: 23, color: '#000', fontFamily: serif, fontSize: 40, customValues: yTicks, formatter: fmtY},
  splitLine: {show: false}
}));

const series = [];
[realSeries, artSeries].forEach((group, gi) => {
  group.forEach((data, si) => {
    series.push({
      type: 'line', xAxisIndex: gi, yAxisIndex: gi, data: data,
      showSymbol: false, symbol: 'none', smooth: false, animation: false,
      lineStyle: {color: colors[si], width: 5.5, join: 'round', cap: 'butt'},
      z: 2 + si, silent: true
    });
  });
});

// measured widths to mimic the wider Computer Modern / condensed title faces
const mctx = document.createElement('canvas').getContext('2d');
function textW(font, s) { mctx.font = font; return mctx.measureText(s).width; }
const sxTitle = 750 / textW('italic 500 74px ' + titleFont, titles[0]);
const ylFont = "35px 'Liberation Serif'";
const sxY1 = 622 / textW(ylFont, yLabel1);
const sxY2 = 481 / textW(ylFont, yLabel2);
const sxT = 196 / textW("38px 'Liberation Serif'", 'Time (in s)');

function yName(x, y, txt, sc) {
  return {type: 'text', x: x, y: y, rotation: Math.PI / 2, scaleX: sc,
    style: {text: txt, fontFamily: serif, fontSize: 35, fill: '#000', align: 'center', verticalAlign: 'middle'}};
}
function xName(x) {
  return {type: 'text', x: x, y: 845, scaleX: sxT,
    style: {text: 'Time (in {i|s})', fontFamily: serif, fontSize: 38, fill: '#000', align: 'center', verticalAlign: 'middle',
      rich: {i: {fontFamily: serif, fontSize: 38, fontStyle: 'italic', fill: '#000'}}}};
}

const graphics = [
  {type: 'text', x: 812, y: 62, scaleX: sxTitle, style: {text: titles[0], fontFamily: titleFont, fontStyle: 'italic', fontWeight: 500, fontSize: 74, fill: '#000', align: 'center', verticalAlign: 'middle'}},
  {type: 'text', x: 1677, y: 62, scaleX: sxTitle, style: {text: titles[1], fontFamily: titleFont, fontStyle: 'italic', fontWeight: 500, fontSize: 74, fill: '#000', align: 'left', verticalAlign: 'middle'}},
  yName(89, 450, yLabel1, sxY1),
  yName(129, 450, yLabel2, sxY2),
  yName(1398, 462, yLabel1, sxY1 * 0.975),
  yName(1441, 462, yLabel2, sxY2 * 0.975),
  xName(779),
  xName(2065)
];

const chart = echarts.init(document.getElementById('c'), null, {renderer: 'canvas', width: 2600, height: 869});
chart.setOption({
  backgroundColor: '#fff',
  animation: false,
  grid: grids.map(g => Object.assign({show: true, borderColor: '#000', borderWidth: 2.6, backgroundColor: 'rgba(0,0,0,0)', containLabel: false}, g)),
  xAxis: xAxes,
  yAxis: yAxes,
  series: series,
  graphic: graphics
});
</script>
</body></html>
